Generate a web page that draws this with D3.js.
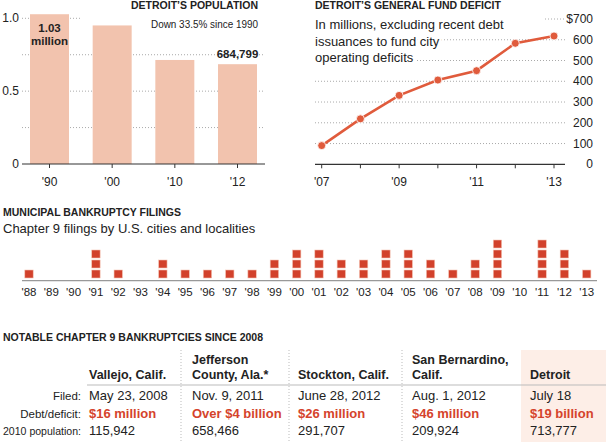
<!DOCTYPE html>
<html>
<head>
<meta charset="utf-8">
<script src="https://cdn.jsdelivr.net/npm/d3@7"></script>
<style>
  body { margin: 0; background: #fff; }
  svg { display: block; font-family: "Liberation Sans", Arial, sans-serif; }
</style>
</head>
<body>
<svg id="chart" width="606" height="444"></svg>
<script>
// population, millions
const popYears = ["'90", "'00", "'10", "'12"]
const popValues = [1.028, 0.951, 0.714, 0.685]
const popTicks = [0, 0.5, 1.0]

// general fund deficit, $ millions
const defYears = [2007, 2008, 2009, 2010, 2011, 2012, 2013]
const defValues = [90, 219, 332, 406, 451, 583, 618]
const defTicks = [0, 100, 200, 300, 400, 500, 600, 700]

// chapter 9 filings per year
const fileYears = d3.range(1988, 2014)
const fileCounts = [1, 0, 0, 3, 1, 0, 2, 1, 1, 1, 1, 2, 3, 3, 2, 2, 3, 3, 2, 1, 2, 4, 0, 4, 3, 1]

// table
const cities = [['Vallejo, Calif.'], ['Jefferson', 'County, Ala.*'], ['Stockton, Calif.'], ['San Bernardino,', 'Calif.'], ['Detroit']]
const filed = ['May 23, 2008', 'Nov. 9, 2011', 'June 28, 2012', 'Aug. 1, 2012', 'July 18']
const debt = ['$16 million', 'Over $4 billion', '$26 million', '$46 million', '$19 billion']
const pop2010 = ['115,942', '658,466', '291,707', '209,924', '713,777']
const rowLabels = ['Filed:', 'Debt/deficit:', '2010 population:']

const red = '#d5432c'
const ink = '#222'
const svg = d3.select('#chart')

// ---- population bars
const xPop = d3.scalePoint().domain(popYears).range([49.5, 237.5])
const yPop = d3.scaleLinear().domain([0, 1]).range([164, 18.3])
const gPop = svg.append('g')

gPop.selectAll('line.grid')
  .data([0.25, 0.5, 0.75, 1.0])
  .join('line')
  .attr('x1', 22).attr('x2', d => d === 1 ? 82 : 265)
  .attr('y1', d => yPop(d)).attr('y2', d => yPop(d))
  .attr('stroke', '#aaa').attr('stroke-dasharray', '1,2')

gPop.selectAll('rect')
  .data(popValues)
  .join('rect')
  .attr('x', (d, i) => xPop(popYears[i]) - 19.5)
  .attr('width', 39)
  .attr('y', d => yPop(d))
  .attr('height', d => yPop(0) - yPop(d))
  .attr('fill', '#f2c3ae')

gPop.append('line').attr('x1', 22).attr('x2', 265)
  .attr('y1', yPop(0)).attr('y2', yPop(0)).attr('stroke', '#333').attr('stroke-width', 1.2)
gPop.selectAll('line.tick').data(popYears).join('line')
  .attr('x1', d => xPop(d)).attr('x2', d => xPop(d))
  .attr('y1', yPop(0)).attr('y2', yPop(0) + 4).attr('stroke', '#333')
gPop.selectAll('text.xl').data(popYears).join('text')
  .attr('x', d => xPop(d)).attr('y', 186).attr('text-anchor', 'middle')
  .attr('font-size', 12).attr('fill', ink).text(d => d)
gPop.selectAll('text.yl').data(popTicks).join('text')
  .attr('x', 19).attr('y', d => yPop(d) + 4).attr('text-anchor', 'end')
  .attr('font-size', 12).attr('fill', ink).text(d => d === 0 ? '0' : d.toFixed(1))

gPop.append('text').attr('x', 258).attr('y', 9).attr('text-anchor', 'end')
  .attr('font-size', 10.5).attr('font-weight', 'bold').attr('fill', ink).text('DETROIT\u2019S POPULATION')
gPop.append('text').attr('x', 258).attr('y', 28).attr('text-anchor', 'end')
  .attr('font-size', 11.5).attr('fill', ink)
  .attr('textLength', 107).attr('lengthAdjust', 'spacingAndGlyphs')
  .text('Down 33.5% since 1990')
gPop.append('text').attr('x', xPop(popYears[0])).attr('y', 32).attr('text-anchor', 'middle')
  .attr('font-size', 11.5).attr('font-weight', 'bold').attr('fill', ink).text('1.03')
gPop.append('text').attr('x', xPop(popYears[0])).attr('y', 45).attr('text-anchor', 'middle')
  .attr('font-size', 11.5).attr('font-weight', 'bold').attr('fill', ink).text('million')
gPop.append('text').attr('x', xPop(popYears[3])).attr('y', yPop(popValues[3]) - 6).attr('text-anchor', 'middle')
  .attr('font-size', 11.5).attr('font-weight', 'bold').attr('fill', ink).text('684,799')

// ---- deficit line
const xDef = d3.scaleLinear().domain([2007, 2013]).range([321.7, 554])
const yDef = d3.scaleLinear().domain([0, 700]).range([164.3, 19])
const gDef = svg.append('g')

gDef.selectAll('line.grid').data(defTicks.slice(1)).join('line')
  .attr('x1', d => d === 700 ? 545 : 315).attr('x2', 565)
  .attr('y1', d => yDef(d)).attr('y2', d => yDef(d))
  .attr('stroke', '#aaa').attr('stroke-dasharray', '1,2')
gDef.append('line').attr('x1', 315).attr('x2', 565)
  .attr('y1', yDef(0)).attr('y2', yDef(0)).attr('stroke', '#333').attr('stroke-width', 1.2)
gDef.selectAll('line.tick').data(defYears).join('line')
  .attr('x1', d => xDef(d)).attr('x2', d => xDef(d))
  .attr('y1', yDef(0)).attr('y2', yDef(0) + 4).attr('stroke', '#333')
gDef.selectAll('text.xl').data(defYears.filter(d => d % 2 === 1)).join('text')
  .attr('x', d => xDef(d)).attr('y', 186).attr('text-anchor', 'middle')
  .attr('font-size', 12).attr('fill', ink).text(d => "'" + String(d).slice(2))
gDef.selectAll('text.yl').data(defTicks).join('text')
  .attr('x', 593).attr('y', d => yDef(d) + 4).attr('text-anchor', 'end')
  .attr('font-size', 12).attr('fill', ink).text(d => d === 700 ? '$700' : d)

gDef.append('text').attr('x', 315).attr('y', 9)
  .attr('font-size', 10.5).attr('font-weight', 'bold').attr('fill', ink).text('DETROIT\u2019S GENERAL FUND DEFICIT')
gDef.selectAll('text.sub')
  .data(['In millions, excluding recent debt', 'issuances to fund city', 'operating deficits'])
  .join('text')
  .attr('x', 315).attr('y', (d, i) => 29 + i * 16.5)
  .attr('font-size', 13).attr('fill', ink)
  .attr('stroke', '#fff').attr('stroke-width', 5).attr('paint-order', 'stroke')
  .text(d => d)

const line = d3.line().x((d, i) => xDef(defYears[i])).y(d => yDef(d))
gDef.append('path').datum(defValues).attr('d', line)
  .attr('fill', 'none').attr('stroke', '#e05b3c').attr('stroke-width', 2.6)
gDef.selectAll('circle').data(defValues).join('circle')
  .attr('cx', (d, i) => xDef(defYears[i])).attr('cy', d => yDef(d)).attr('r', 4)
  .attr('fill', '#e05b3c').attr('stroke', '#fff').attr('stroke-width', 0.8)

// ---- filings
const xFile = d3.scalePoint().domain(fileYears).range([29, 586.7])
const gFile = svg.append('g')
gFile.append('text').attr('x', 3).attr('y', 216)
  .attr('font-size', 10.5).attr('font-weight', 'bold').attr('fill', ink).text('MUNICIPAL BANKRUPTCY FILINGS')
gFile.append('text').attr('x', 3).attr('y', 233)
  .attr('font-size', 13).attr('fill', ink).text('Chapter 9 filings by U.S. cities and localities')

const squares = []
fileYears.forEach((y, i) => d3.range(fileCounts[i]).forEach(k => squares.push({ y, k })))
gFile.selectAll('rect').data(squares).join('rect')
  .attr('x', d => xFile(d.y) - 4.2).attr('width', 8.4)
  .attr('y', d => 270 - d.k * 10).attr('height', 8)
  .attr('fill', '#d2412b').attr('stroke', '#f4c4b4').attr('stroke-width', 0.6)
gFile.append('line').attr('x1', 22).attr('x2', 597)
  .attr('y1', 280.7).attr('y2', 280.7).attr('stroke', '#999').attr('stroke-width', 1.2)
gFile.selectAll('text.xl').data(fileYears).join('text')
  .attr('x', d => xFile(d)).attr('y', 296).attr('text-anchor', 'middle')
  .attr('font-size', 11.5).attr('fill', ink).text(d => "'" + String(d).slice(2))

// ---- table
const colX = [89, 192, 298, 412, 530]
const gTab = svg.append('g')
gTab.append('rect').attr('x', 521).attr('y', 350).attr('width', 85).attr('height', 92).attr('fill', '#fdeee7')
gTab.append('text').attr('x', 3).attr('y', 341)
  .attr('font-size', 10.5).attr('font-weight', 'bold').attr('fill', ink).text('NOTABLE CHAPTER 9 BANKRUPTCIES SINCE 2008')
gTab.selectAll('line.sep').data([181, 289, 402]).join('line')
  .attr('x1', d => d).attr('x2', d => d).attr('y1', 350).attr('y2', 442)
  .attr('stroke', '#bbb').attr('stroke-dasharray', '1,2')
gTab.append('line').attr('x1', 87).attr('x2', 606).attr('y1', 385).attr('y2', 385)
  .attr('stroke', '#bbb').attr('stroke-width', 1)

cities.forEach((lines, i) => {
  gTab.selectAll(null).data(lines).join('text')
    .attr('x', colX[i]).attr('y', (d, j) => 379 - (lines.length - 1 - j) * 15)
    .attr('font-size', 12.5).attr('font-weight', 'bold').attr('fill', ink).text(d => d)
})
const rows = [filed, debt, pop2010]
const rowY = [400, 418, 435]
rows.forEach((vals, r) => {
  gTab.append('text').attr('x', 81).attr('y', rowY[r]).attr('text-anchor', 'end')
    .attr('font-size', 11.5).attr('fill', ink)
    .attr('textLength', r === 2 ? 78 : null).attr('lengthAdjust', 'spacingAndGlyphs')
    .text(rowLabels[r])
  gTab.selectAll(null).data(vals).join('text')
    .attr('x', (d, i) => colX[i]).attr('y', rowY[r])
    .attr('font-size', 13)
    .attr('font-weight', r === 1 ? 'bold' : null)
    .attr('fill', r === 1 ? red : ink)
    .text(d => d)
})
</script>
</body>
</html>
